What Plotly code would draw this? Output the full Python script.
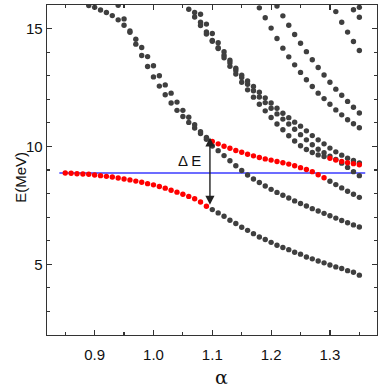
import plotly.graph_objects as go

# ---------------- data (alpha grid step 0.01) ----------------
ALPHA = [0.84, 0.85, 0.86, 0.87, 0.88, 0.89, 0.90, 0.91, 0.92, 0.93, 0.94,
         0.95, 0.96, 0.97, 0.98, 0.99, 1.00, 1.01, 1.02, 1.03, 1.04, 1.05,
         1.06, 1.07, 1.08, 1.09, 1.10, 1.11, 1.12, 1.13, 1.14, 1.15, 1.16,
         1.17, 1.18, 1.19, 1.20, 1.21, 1.22, 1.23, 1.24, 1.25, 1.26, 1.27,
         1.28, 1.29, 1.30, 1.31, 1.32, 1.33, 1.34, 1.35]

# red (state-like) segments: (first alpha, energies)
red_A = (0.85, [8.87, 8.86, 8.84, 8.83, 8.82, 8.79, 8.76, 8.73, 8.70, 8.66,
                8.62, 8.58, 8.53, 8.48, 8.42, 8.37, 8.30, 8.23, 8.14, 8.06,
                7.97, 7.88, 7.78, 7.64, 7.46])
red_B = (1.10, [10.21, 10.11, 10.01, 9.92, 9.83, 9.75, 9.67, 9.60, 9.53, 9.47,
                9.42, 9.36, 9.31, 9.25, 9.18, 9.10, 9.02, 8.93, 8.80, 8.67])
red_T3 = (1.30, [9.50, 9.42, 9.36, 9.31, 9.27, 9.22])

# gray segments
gray_A = (1.10, [7.32, 7.18, 7.04, 6.87, 6.73, 6.57, 6.44, 6.30, 6.16, 6.05,
                 5.93, 5.81, 5.71, 5.62, 5.51, 5.43, 5.31, 5.23, 5.14, 5.06,
                 4.97, 4.89, 4.82, 4.73, 4.66, 4.54])
gray_B = (1.30, [8.52, 8.38, 8.24, 8.10, 7.97, 7.84])
gray_C = (1.10, [10.02, 9.82, 9.61, 9.39, 9.18, 8.98, 8.79, 8.62, 8.47, 8.32,
                 8.18, 8.05, 7.93, 7.81, 7.69, 7.58, 7.47, 7.36, 7.26, 7.16,
                 7.06, 6.96, 6.86, 6.76, 6.67, 6.58])
gray_S = (0.94, [15.99, 15.41, 14.90, 14.34, 13.86, 13.39, 12.95, 12.56, 12.19,
                 11.84, 11.53, 11.27, 11.02, 10.78, 10.55, 10.30])
gray_P = (0.89, [15.98, 15.90, 15.79, 15.68, 15.55, 15.37, 15.14, 14.84, 14.55,
                 14.20, 13.81, 13.42, 13.00, 12.61, 12.26, 11.88, 11.53, 11.24,
                 10.92, 10.62, 10.38])
gray_T1 = (1.08, [15.61, 15.19, 14.79, 14.40, 14.02, 13.66, 13.32, 13.02, 12.78,
                  12.54, 12.30, 12.06, 11.84, 11.62, 11.41, 11.22, 11.03, 10.86,
                  10.66, 10.46, 10.28, 10.11, 9.93, 9.77, 9.63, 9.50, 9.40, 9.30])
gray_T2 = (1.07, [15.68, 15.27, 14.86, 14.50, 14.19, 13.87, 13.55, 13.22, 12.92,
                  12.64, 12.36, 12.10, 11.86, 11.62, 11.38, 11.16, 10.95, 10.73,
                  10.50, 10.28, 10.07, 9.88, 9.73, 9.59, 9.45, 9.29, 9.11, 8.93,
                  8.76])
gray_T3 = (1.06, [15.82, 15.49, 15.13, 14.77, 14.46, 14.15, 13.76, 13.40, 13.07,
                  12.72, 12.40, 12.09, 11.79, 11.51, 11.23, 10.95, 10.71, 10.45,
                  10.23, 10.03, 9.87, 9.74, 9.64, 9.57])
gray_E = (1.18, [15.88, 15.46, 15.02, 14.58, 14.17, 13.80, 13.46, 13.14, 12.83,
                 12.54, 12.26, 12.03, 11.79, 11.55, 11.34, 11.13, 10.96, 10.79])
gray_F = (1.21, [15.96, 15.54, 15.14, 14.75, 14.38, 14.02, 13.68, 13.35, 13.03,
                 12.72, 12.43, 12.17, 11.91, 11.66, 11.42])
gray_G = (1.31, [15.72, 15.27, 14.85, 14.45, 14.07])
gray_H = (1.34, [15.80, 15.48])
gray_I = (1.35, [15.90])

GRAY = [gray_A, gray_B, gray_C, gray_S, gray_P, gray_T1, gray_T2, gray_T3,
        gray_E, gray_F, gray_G, gray_H, gray_I]
RED = [red_A, red_B, red_T3]

REF_ALPHA = [0.84, 1.36]
REF_E = 8.87
ARROW_ALPHA = 1.096
ARROW_LOW, ARROW_HIGH = 7.46, 10.38
DE_LABEL = (1.061, 9.39)


def xs(seg):
    i0 = ALPHA.index(seg[0])
    return ALPHA[i0:i0 + len(seg[1])]


fig = go.Figure()
fig.add_trace(go.Scatter(x=REF_ALPHA, y=[REF_E, REF_E], mode="lines",
                         line=dict(color="#3b3bff", width=1.5),
                         hoverinfo="skip"))
for seg in GRAY:
    fig.add_trace(go.Scatter(x=xs(seg), y=seg[1], mode="markers",
                             marker=dict(color="#3f3f3f", size=5.4,
                                         line=dict(width=0))))
for seg in RED:
    fig.add_trace(go.Scatter(x=xs(seg), y=seg[1], mode="markers",
                             marker=dict(color="#ff0000", size=5.4,
                                         line=dict(width=0))))

# double-headed arrow
fig.add_annotation(x=ARROW_ALPHA, y=ARROW_HIGH, ax=ARROW_ALPHA, ay=ARROW_LOW,
                   xref="x", yref="y", axref="x", ayref="y", text="",
                   showarrow=True, arrowhead=2, startarrowhead=2,
                   arrowside="end+start", arrowsize=1.3, startarrowsize=1.3,
                   arrowwidth=1.4, arrowcolor="#222222",
                   standoff=0, startstandoff=0)
fig.add_annotation(x=DE_LABEL[0], y=DE_LABEL[1], xref="x", yref="y",
                   text="Δ E", showarrow=False,
                   font=dict(family="Liberation Sans", size=15, color="#111"))
fig.add_annotation(x=0.529, y=-0.127, xref="paper", yref="paper",
                   text="α", showarrow=False, yanchor="middle",
                   font=dict(family="DejaVu Serif", size=19, color="#111"))
fig.add_annotation(x=-0.111, y=0.479, xref="paper", yref="paper",
                   text="E(MeV)", showarrow=False, textangle=-90,
                   font=dict(family="Liberation Sans", size=15, color="#111"))

axis_common = dict(showline=True, linecolor="#333333", linewidth=1.3,
                   mirror="ticks", ticks="inside", ticklen=5, tickwidth=1.2,
                   tickcolor="#333333", showgrid=False, zeroline=False,
                   tickfont=dict(family="Liberation Sans", size=15,
                                 color="#111"))
fig.update_xaxes(range=[0.819, 1.380], tick0=0.9, dtick=0.1,
                 tickformat=".1f", ticklabelstandoff=6,
                 minor=dict(tick0=0.85, dtick=0.05, ticks="inside",
                            ticklen=3, tickcolor="#333333"),
                 **axis_common)
fig.update_yaxes(range=[2.0, 16.0], tick0=0, dtick=5,
                 minor=dict(tick0=0, dtick=1, ticks="inside", ticklen=3,
                            tickcolor="#333333"),
                 **axis_common)
fig.update_layout(width=382, height=392,
                  margin=dict(l=47, r=5, t=5, b=57, autoexpand=False),
                  plot_bgcolor="white", paper_bgcolor="white",
                  showlegend=False, hovermode=False)
fig.write_html("out.html",
               config={"displayModeBar": False, "staticPlot": True},
               post_script="document.body.style.margin='0px';"
                           "document.body.style.overflow='hidden';")
